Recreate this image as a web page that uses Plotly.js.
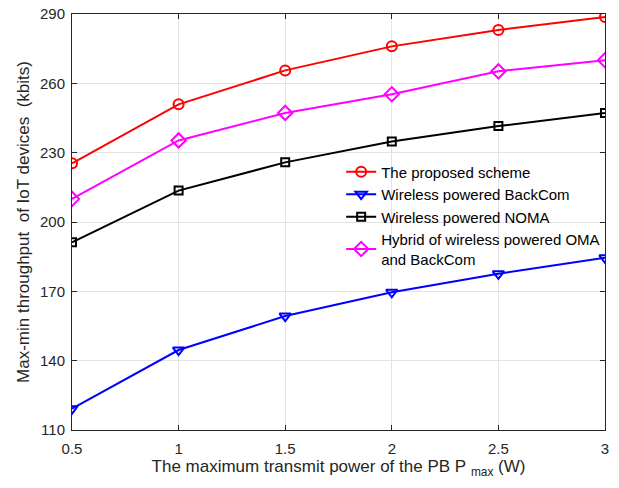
<!DOCTYPE html>
<html>
<head>
<meta charset="utf-8">
<script src="https://cdn.plot.ly/plotly-3.0.1.min.js"></script>
<style>html,body{margin:0;padding:0;background:#fff;}#chart{width:619px;height:488px;}</style>
</head>
<body>
<div id="chart"></div>
<script>
const xPower = [0.5, 1, 1.5, 2, 2.5, 3];
const proposed = [225.4, 250.9, 265.6, 276.0, 283.1, 288.7];
const backcom = [119.2, 144.6, 159.3, 169.6, 177.6, 184.5];
const noma = [191.2, 213.6, 225.8, 234.8, 241.5, 247.2];
const hybrid = [210.0, 235.3, 247.2, 255.3, 265.2, 270.0];
const names = ["The proposed scheme", "Wireless powered BackCom", "Wireless powered NOMA", "Hybrid of wireless powered OMA<br>and BackCom"];
const yTicks = [110, 140, 170, 200, 230, 260, 290];
const xTicks = [0.5, 1, 1.5, 2, 2.5, 3];

function tr(y, name, color, symbol, size) {
  return {x: xPower, y: y, name: name, type: 'scatter', mode: 'lines+markers',
    line: {color: color, width: 2},
    marker: {symbol: symbol, size: size, color: color, line: {color: color, width: 2}}};
}
const data = [
  tr(proposed, names[0], '#ff0000', 'circle-open', 10),
  tr(backcom, names[1], '#0000ff', 'triangle-down-open', 10),
  tr(noma, names[2], '#000000', 'square-open', 8),
  tr(hybrid, names[3], '#ff00ff', 'diamond-open', 11)
];
const FONT = 'Liberation Sans, Arial, sans-serif';
const axisCommon = {showline: true, mirror: 'ticks', linecolor: '#262626', linewidth: 1,
  ticks: 'inside', ticklen: 5, tickcolor: '#262626', showgrid: true, gridcolor: '#e3e3e3', gridwidth: 1,
  zeroline: false, tickfont: {family: FONT, size: 15, color: '#262626'}};
const layout = {
  width: 619, height: 488,
  margin: {l: 72, r: 14, t: 14, b: 58},
  paper_bgcolor: '#fff', plot_bgcolor: '#fff',
  font: {family: FONT, color: '#262626'},
  xaxis: Object.assign({}, axisCommon, {range: [0.5, 3], tickvals: xTicks, ticktext: xTicks.map(String),
    ticklabelstandoff: 5,
    title: {text: 'The maximum transmit power of the PB P\u00a0<sub>max</sub>\u00a0(W)', font: {size: 17, color: '#262626'}, standoff: 4}}),
  yaxis: Object.assign({}, axisCommon, {range: [110, 290], tickvals: yTicks, ticklabelstandoff: 3,
    title: {text: 'Max-min throughput\u00a0\u00a0of IoT devices\u00a0\u00a0(kbits)', font: {size: 17, color: '#262626'}, standoff: 6}}),
  showlegend: true,
  legend: {x: 0.505, y: 0.66, xanchor: 'left', yanchor: 'top', bgcolor: 'rgba(255,255,255,0)',
    borderwidth: 0, font: {family: FONT, size: 15, color: '#000'}, tracegroupgap: 0}
};
Plotly.newPlot('chart', data, layout, {displayModeBar: false, staticPlot: true});
</script>
</body>
</html>
